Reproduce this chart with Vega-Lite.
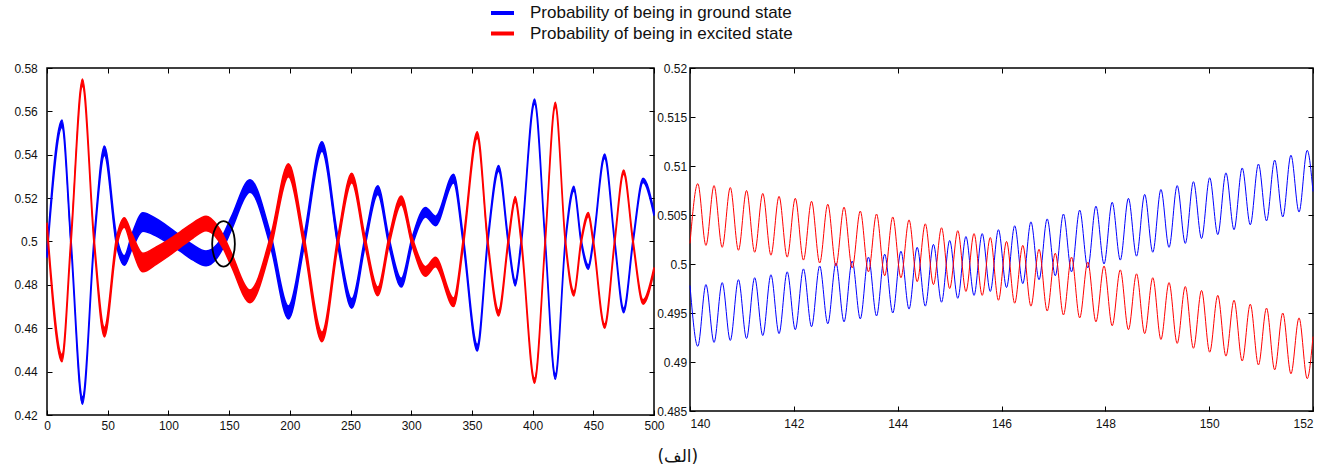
{
  "$schema": "https://vega.github.io/schema/vega-lite/v6.json",
  "padding": {"left": 13, "top": 2, "right": 5, "bottom": 5},
  "background": "white",
  "bounds": "flush",
  "spacing": 36,
  "config": {
    "font": "Liberation Sans",
    "view": {"stroke": "black", "strokeWidth": 1.5},
    "axis": {"grid": false, "domain": false, "tickColor": "black", "tickSize": -5, "tickWidth": 1, "labelFont": "Liberation Sans", "labelFontSize": 12, "labelColor": "#111"},
    "legend": {"orient": "none", "legendX": 442, "legendY": -65, "direction": "vertical", "title": null, "symbolType": "stroke", "symbolStrokeWidth": 4, "symbolSize": 529, "labelFontSize": 17, "labelFont": "Liberation Sans", "labelColor": "#111", "labelLimit": 600, "labelOffset": 14, "clipHeight": 20, "rowPadding": 0.5}
  },
  "title": {"text": "(الف)", "orient": "bottom", "anchor": "middle", "font": "DejaVu Sans", "fontSize": 17, "fontWeight": "normal", "color": "#111", "offset": 17, "dx": 13},
  "datasets": {
    "left": [
      {"t":0,"s":"g","lo":0.4925,"hi":0.4959},
      {"t":12.3,"s":"g","lo":0.5526,"hi":0.556},
      {"t":19.7,"s":"g","lo":0.4983,"hi":0.5017},
      {"t":29.2,"s":"g","lo":0.425,"hi":0.4284},
      {"t":38.8,"s":"g","lo":0.4983,"hi":0.5017},
      {"t":47.3,"s":"g","lo":0.5396,"hi":0.544},
      {"t":57.4,"s":"g","lo":0.4978,"hi":0.5022},
      {"t":63.7,"s":"g","lo":0.489,"hi":0.4934},
      {"t":70,"s":"g","lo":0.4965,"hi":0.5035},
      {"t":79,"s":"g","lo":0.5047,"hi":0.5133},
      {"t":90,"s":"g","lo":0.5025,"hi":0.5105},
      {"t":100,"s":"g","lo":0.4992,"hi":0.5068},
      {"t":110,"s":"g","lo":0.4954,"hi":0.5026},
      {"t":120,"s":"g","lo":0.4915,"hi":0.4985},
      {"t":131,"s":"g","lo":0.4888,"hi":0.4956},
      {"t":140,"s":"g","lo":0.4924,"hi":0.4986},
      {"t":145,"s":"g","lo":0.4969,"hi":0.5031},
      {"t":152,"s":"g","lo":0.5054,"hi":0.5116},
      {"t":167.2,"s":"g","lo":0.5227,"hi":0.5285},
      {"t":184.4,"s":"g","lo":0.497,"hi":0.503},
      {"t":198.9,"s":"g","lo":0.4643,"hi":0.4703},
      {"t":211.7,"s":"g","lo":0.4974,"hi":0.5026},
      {"t":226.5,"s":"g","lo":0.5416,"hi":0.546},
      {"t":239.6,"s":"g","lo":0.4978,"hi":0.5022},
      {"t":251,"s":"g","lo":0.4692,"hi":0.4736},
      {"t":262,"s":"g","lo":0.4979,"hi":0.5021},
      {"t":272.5,"s":"g","lo":0.5217,"hi":0.5257},
      {"t":281.6,"s":"g","lo":0.498,"hi":0.502},
      {"t":291.8,"s":"g","lo":0.479,"hi":0.483},
      {"t":300.8,"s":"g","lo":0.498,"hi":0.502},
      {"t":311.8,"s":"g","lo":0.5113,"hi":0.5157},
      {"t":320,"s":"g","lo":0.5073,"hi":0.5117},
      {"t":334.9,"s":"g","lo":0.527,"hi":0.531},
      {"t":343,"s":"g","lo":0.4982,"hi":0.5018},
      {"t":354.4,"s":"g","lo":0.4495,"hi":0.4525},
      {"t":363,"s":"g","lo":0.4986,"hi":0.5014},
      {"t":372,"s":"g","lo":0.5324,"hi":0.535},
      {"t":380,"s":"g","lo":0.4987,"hi":0.5013},
      {"t":385.7,"s":"g","lo":0.4795,"hi":0.4821},
      {"t":390.7,"s":"g","lo":0.4987,"hi":0.5013},
      {"t":401.6,"s":"g","lo":0.5633,"hi":0.5657},
      {"t":410.4,"s":"g","lo":0.4988,"hi":0.5012},
      {"t":418.7,"s":"g","lo":0.4365,"hi":0.4389},
      {"t":427,"s":"g","lo":0.4989,"hi":0.5011},
      {"t":434,"s":"g","lo":0.5233,"hi":0.5255},
      {"t":440,"s":"g","lo":0.499,"hi":0.501},
      {"t":445.9,"s":"g","lo":0.4872,"hi":0.4892},
      {"t":450,"s":"g","lo":0.499,"hi":0.501},
      {"t":459.3,"s":"g","lo":0.5383,"hi":0.5403},
      {"t":467.6,"s":"g","lo":0.499,"hi":0.501},
      {"t":475,"s":"g","lo":0.4672,"hi":0.4692},
      {"t":482.7,"s":"g","lo":0.499,"hi":0.501},
      {"t":491,"s":"g","lo":0.5272,"hi":0.5292},
      {"t":500,"s":"g","lo":0.512,"hi":0.514},
      {"t":0,"s":"e","lo":0.5053,"hi":0.5087},
      {"t":12.3,"s":"e","lo":0.4445,"hi":0.4479},
      {"t":19.7,"s":"e","lo":0.4983,"hi":0.5017},
      {"t":29.2,"s":"e","lo":0.5715,"hi":0.5749},
      {"t":38.8,"s":"e","lo":0.4983,"hi":0.5017},
      {"t":47.3,"s":"e","lo":0.456,"hi":0.4604},
      {"t":57.4,"s":"e","lo":0.4978,"hi":0.5022},
      {"t":63.7,"s":"e","lo":0.5066,"hi":0.511},
      {"t":70,"s":"e","lo":0.4965,"hi":0.5035},
      {"t":79,"s":"e","lo":0.486,"hi":0.4946},
      {"t":90,"s":"e","lo":0.4895,"hi":0.4975},
      {"t":100,"s":"e","lo":0.4932,"hi":0.5008},
      {"t":110,"s":"e","lo":0.4974,"hi":0.5046},
      {"t":120,"s":"e","lo":0.5015,"hi":0.5085},
      {"t":131,"s":"e","lo":0.5049,"hi":0.5117},
      {"t":140,"s":"e","lo":0.5014,"hi":0.5076},
      {"t":145,"s":"e","lo":0.4969,"hi":0.5031},
      {"t":152,"s":"e","lo":0.4884,"hi":0.4946},
      {"t":167.2,"s":"e","lo":0.4718,"hi":0.4776},
      {"t":184.4,"s":"e","lo":0.497,"hi":0.503},
      {"t":198.9,"s":"e","lo":0.5299,"hi":0.5359},
      {"t":211.7,"s":"e","lo":0.4974,"hi":0.5026},
      {"t":226.5,"s":"e","lo":0.4538,"hi":0.4582},
      {"t":239.6,"s":"e","lo":0.4978,"hi":0.5022},
      {"t":251,"s":"e","lo":0.5271,"hi":0.5315},
      {"t":262,"s":"e","lo":0.4979,"hi":0.5021},
      {"t":272.5,"s":"e","lo":0.475,"hi":0.479},
      {"t":281.6,"s":"e","lo":0.498,"hi":0.502},
      {"t":291.8,"s":"e","lo":0.517,"hi":0.521},
      {"t":300.8,"s":"e","lo":0.498,"hi":0.502},
      {"t":311.8,"s":"e","lo":0.484,"hi":0.4884},
      {"t":320,"s":"e","lo":0.4883,"hi":0.4927},
      {"t":334.9,"s":"e","lo":0.47,"hi":0.474},
      {"t":343,"s":"e","lo":0.4982,"hi":0.5018},
      {"t":354.4,"s":"e","lo":0.5476,"hi":0.5506},
      {"t":363,"s":"e","lo":0.4986,"hi":0.5014},
      {"t":372,"s":"e","lo":0.4657,"hi":0.4683},
      {"t":380,"s":"e","lo":0.4987,"hi":0.5013},
      {"t":385.7,"s":"e","lo":0.5182,"hi":0.5208},
      {"t":390.7,"s":"e","lo":0.4987,"hi":0.5013},
      {"t":401.6,"s":"e","lo":0.4346,"hi":0.437},
      {"t":410.4,"s":"e","lo":0.4988,"hi":0.5012},
      {"t":418.7,"s":"e","lo":0.5618,"hi":0.5642},
      {"t":427,"s":"e","lo":0.4989,"hi":0.5011},
      {"t":434,"s":"e","lo":0.4749,"hi":0.4771},
      {"t":440,"s":"e","lo":0.499,"hi":0.501},
      {"t":445.9,"s":"e","lo":0.5114,"hi":0.5134},
      {"t":450,"s":"e","lo":0.499,"hi":0.501},
      {"t":459.3,"s":"e","lo":0.46,"hi":0.462},
      {"t":467.6,"s":"e","lo":0.499,"hi":0.501},
      {"t":475,"s":"e","lo":0.531,"hi":0.533},
      {"t":482.7,"s":"e","lo":0.499,"hi":0.501},
      {"t":491,"s":"e","lo":0.4711,"hi":0.4731},
      {"t":500,"s":"e","lo":0.486,"hi":0.488}
    ],
    "right": [
      {"t":140,"g":0.4978,"e":0.5021},
      {"t":140.15,"g":0.4916,"e":0.5082},
      {"t":140.307,"g":0.4979,"e":0.5019},
      {"t":140.463,"g":0.492,"e":0.508},
      {"t":140.62,"g":0.4981,"e":0.5017},
      {"t":140.776,"g":0.4922,"e":0.5078},
      {"t":140.933,"g":0.4984,"e":0.5014},
      {"t":141.089,"g":0.4924,"e":0.5075},
      {"t":141.246,"g":0.4986,"e":0.5012},
      {"t":141.402,"g":0.4927,"e":0.5072},
      {"t":141.559,"g":0.4989,"e":0.5009},
      {"t":141.715,"g":0.4929,"e":0.5069},
      {"t":141.872,"g":0.4992,"e":0.5007},
      {"t":142.028,"g":0.4933,"e":0.5067},
      {"t":142.185,"g":0.4995,"e":0.5004},
      {"t":142.341,"g":0.4936,"e":0.5064},
      {"t":142.498,"g":0.4998,"e":0.5001},
      {"t":142.654,"g":0.4939,"e":0.5061},
      {"t":142.811,"g":0.5001,"e":0.4998},
      {"t":142.967,"g":0.4941,"e":0.5058},
      {"t":143.124,"g":0.5003,"e":0.4996},
      {"t":143.28,"g":0.4944,"e":0.5054},
      {"t":143.437,"g":0.5007,"e":0.4992},
      {"t":143.593,"g":0.4947,"e":0.5051},
      {"t":143.75,"g":0.501,"e":0.4988},
      {"t":143.906,"g":0.495,"e":0.5048},
      {"t":144.063,"g":0.5013,"e":0.4986},
      {"t":144.219,"g":0.4954,"e":0.5045},
      {"t":144.376,"g":0.5017,"e":0.4982},
      {"t":144.532,"g":0.4957,"e":0.5041},
      {"t":144.689,"g":0.502,"e":0.4979},
      {"t":144.845,"g":0.4961,"e":0.5037},
      {"t":145.002,"g":0.5024,"e":0.4975},
      {"t":145.158,"g":0.4965,"e":0.5034},
      {"t":145.315,"g":0.5028,"e":0.4972},
      {"t":145.471,"g":0.4968,"e":0.5031},
      {"t":145.628,"g":0.5031,"e":0.4968},
      {"t":145.784,"g":0.4972,"e":0.5027},
      {"t":145.941,"g":0.5035,"e":0.4963},
      {"t":146.097,"g":0.4976,"e":0.5023},
      {"t":146.254,"g":0.5039,"e":0.496},
      {"t":146.41,"g":0.498,"e":0.5019},
      {"t":146.567,"g":0.5043,"e":0.4957},
      {"t":146.723,"g":0.4984,"e":0.5015},
      {"t":146.88,"g":0.5046,"e":0.4952},
      {"t":147.036,"g":0.4988,"e":0.5011},
      {"t":147.193,"g":0.5051,"e":0.4948},
      {"t":147.349,"g":0.4992,"e":0.5007},
      {"t":147.506,"g":0.5055,"e":0.4945},
      {"t":147.662,"g":0.4996,"e":0.5002},
      {"t":147.819,"g":0.5059,"e":0.4941},
      {"t":147.975,"g":0.5,"e":0.4998},
      {"t":148.132,"g":0.5063,"e":0.4937},
      {"t":148.288,"g":0.5004,"e":0.4994},
      {"t":148.445,"g":0.5067,"e":0.4933},
      {"t":148.601,"g":0.5008,"e":0.499},
      {"t":148.758,"g":0.5071,"e":0.4929},
      {"t":148.914,"g":0.5012,"e":0.4986},
      {"t":149.071,"g":0.5076,"e":0.4923},
      {"t":149.227,"g":0.5017,"e":0.4981},
      {"t":149.384,"g":0.508,"e":0.4919},
      {"t":149.54,"g":0.5021,"e":0.4977},
      {"t":149.697,"g":0.5084,"e":0.4914},
      {"t":149.853,"g":0.5026,"e":0.4973},
      {"t":150.01,"g":0.5088,"e":0.491},
      {"t":150.166,"g":0.503,"e":0.4968},
      {"t":150.323,"g":0.5093,"e":0.4906},
      {"t":150.479,"g":0.5035,"e":0.4963},
      {"t":150.636,"g":0.5098,"e":0.4901},
      {"t":150.792,"g":0.504,"e":0.4959},
      {"t":150.949,"g":0.5102,"e":0.4897},
      {"t":151.105,"g":0.5044,"e":0.4955},
      {"t":151.262,"g":0.5106,"e":0.4892},
      {"t":151.418,"g":0.5048,"e":0.495},
      {"t":151.575,"g":0.5111,"e":0.4888},
      {"t":151.731,"g":0.5053,"e":0.4945},
      {"t":151.888,"g":0.5116,"e":0.4883},
      {"t":152,"g":0.5074,"e":0.4926}
    ],
    "marker": [{"t":145.4,"y":0.4989}]
  },
  "hconcat": [
    {
      "width": 607,
      "height": 347,
      "layer": [
        {
          "data": {"name": "left"},
          "mark": {"type": "area", "interpolate": "monotone", "strokeWidth": 1.5},
          "encoding": {
            "x": {"field": "t", "type": "quantitative", "scale": {"domain": [0, 500], "nice": false}, "axis": {"orient": "bottom", "title": null, "values": [0,50,100,150,200,250,300,350,400,450,500], "format": "d", "labelPadding": 10.5, "labelFlush": false}},
            "y": {"field": "lo", "type": "quantitative", "stack": null, "scale": {"domain": [0.42, 0.58], "nice": false, "zero": false}, "axis": {"orient": "left", "title": null, "values": [0.42,0.44,0.46,0.48,0.5,0.52,0.54,0.56,0.58], "format": ".2~f", "labelPadding": 14.7, "labelFlush": false}},
            "y2": {"field": "hi"},
            "fill": {"field": "s", "type": "nominal", "scale": {"domain": ["g", "e"], "range": ["#0000ff", "#ff0000"]}, "legend": {"labelExpr": "datum.value == 'g' ? 'Probability of being in ground state' : 'Probability of being in excited state'"}},
            "stroke": {"field": "s", "type": "nominal", "scale": {"domain": ["g", "e"], "range": ["#0000ff", "#ff0000"]}, "legend": {"labelExpr": "datum.value == 'g' ? 'Probability of being in ground state' : 'Probability of being in excited state'"}}
          }
        },
        {
          "data": {"name": "marker"},
          "mark": {"type": "point", "shape": "M-0.5,0A0.5,1 0 1,0 0.5,0A0.5,1 0 1,0 -0.5,0", "size": 2061, "filled": false, "stroke": "black", "strokeWidth": 1.8, "opacity": 1},
          "encoding": {
            "x": {"field": "t", "type": "quantitative", "axis": {"orient": "top", "title": null, "labels": false, "values": [0,50,100,150,200,250,300,350,400,450,500]}},
            "y": {"field": "y", "type": "quantitative", "axis": {"orient": "right", "title": null, "labels": false, "values": [0.42,0.44,0.46,0.48,0.5,0.52,0.54,0.56,0.58]}}
          }
        }
      ],
      "resolve": {"axis": {"x": "independent", "y": "independent"}}
    },
    {
      "width": 623,
      "height": 343,
      "data": {"name": "right"},
      "layer": [
        {
          "transform": [{"fold": ["g", "e"], "as": ["s", "p"]}],
          "mark": {"type": "line", "interpolate": "monotone", "strokeWidth": 1},
          "encoding": {
            "x": {"field": "t", "type": "quantitative", "scale": {"domain": [140, 152], "nice": false}, "axis": {"orient": "bottom", "title": null, "values": [140,142,144,146,148,150,152], "format": "d", "labelPadding": 12, "labelFlush": true}},
            "y": {"field": "p", "type": "quantitative", "scale": {"domain": [0.485, 0.52], "nice": false, "zero": false}, "axis": {"orient": "left", "title": null, "values": [0.485,0.49,0.495,0.5,0.505,0.51,0.515,0.52], "format": ".3~f", "labelPadding": 8.3, "labelFlush": false}},
            "stroke": {"field": "s", "type": "nominal", "scale": {"domain": ["g", "e"], "range": ["#0000ff", "#ff0000"]}, "legend": null}
          }
        },
        {
          "mark": {"type": "point", "opacity": 0},
          "encoding": {
            "x": {"field": "t", "type": "quantitative", "axis": {"orient": "top", "title": null, "labels": false, "values": [140,142,144,146,148,150,152]}},
            "y": {"field": "g", "type": "quantitative", "axis": {"orient": "right", "title": null, "labels": false, "values": [0.485,0.49,0.495,0.5,0.505,0.51,0.515,0.52]}}
          }
        }
      ],
      "resolve": {"axis": {"x": "independent", "y": "independent"}}
    }
  ],
  "resolve": {"legend": {"stroke": "independent", "fill": "independent"}}
}
